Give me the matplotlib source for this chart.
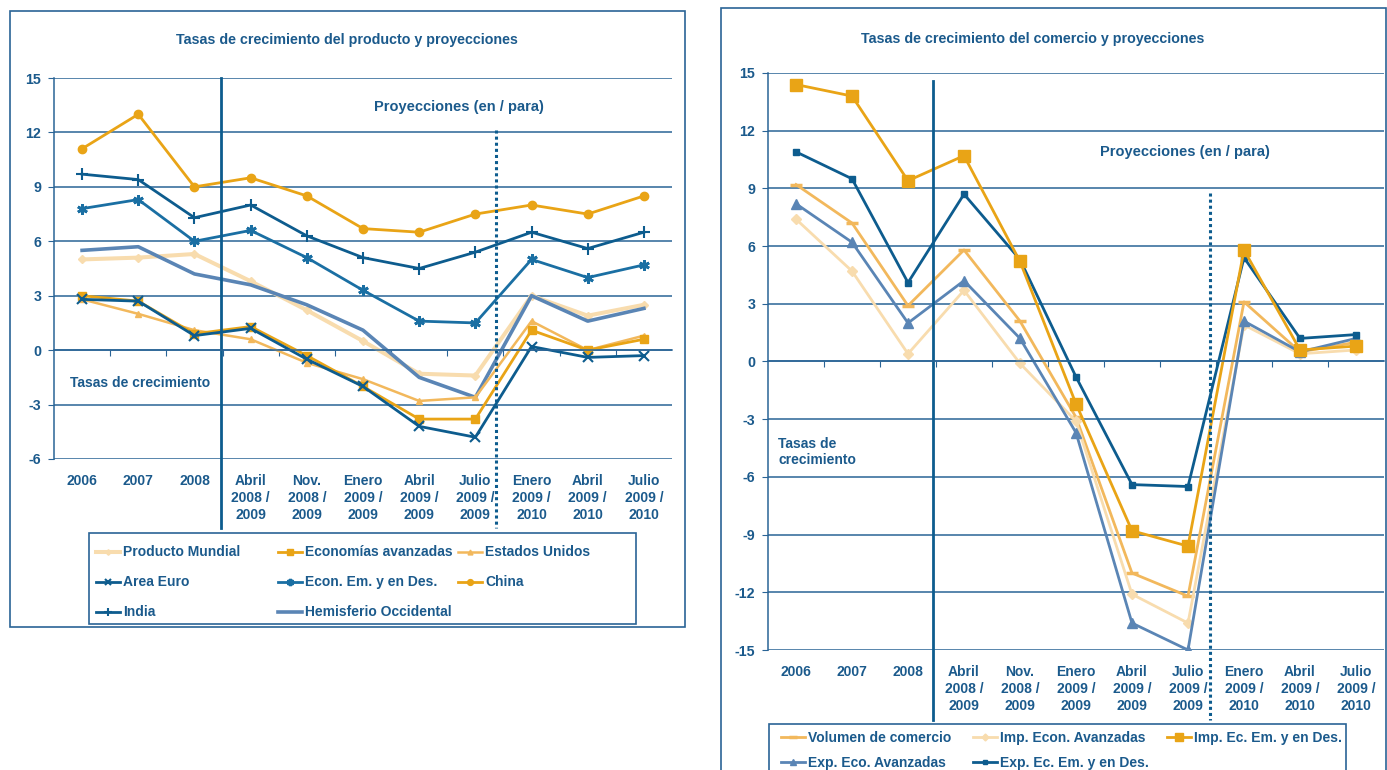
import numpy as np
import matplotlib
matplotlib.use("Agg")
import matplotlib.pyplot as plt
from matplotlib.patches import Rectangle
from matplotlib.transforms import blended_transform_factory

plt.rcParams['font.family'] = ['Liberation Sans', 'DejaVu Sans']
plt.rcParams['font.weight'] = 'bold'
plt.rcParams['axes.unicode_minus'] = False

# categories (x axis)
periods = ["2006", "2007", "2008",
           "Abril\n2008 /\n2009", "Nov.\n2008 /\n2009", "Enero\n2009 /\n2009",
           "Abril\n2009 /\n2009", "Julio\n2009 /\n2009",
           "Enero\n2009 /\n2010", "Abril\n2009 /\n2010", "Julio\n2009 /\n2010"]

# left chart: output growth
producto_mundial = [5.0, 5.1, 5.3, 3.8, 2.2, 0.5, -1.3, -1.4, 3.0, 1.9, 2.5]
economias_avanzadas = [3.0, 2.7, 0.9, 1.3, -0.3, -2.0, -3.8, -3.8, 1.1, 0.0, 0.6]
estados_unidos = [2.8, 2.0, 1.1, 0.6, -0.7, -1.6, -2.8, -2.6, 1.6, 0.0, 0.8]
area_euro = [2.8, 2.7, 0.8, 1.2, -0.5, -2.0, -4.2, -4.8, 0.2, -0.4, -0.3]
econ_em = [7.8, 8.3, 6.0, 6.6, 5.1, 3.3, 1.6, 1.5, 5.0, 4.0, 4.7]
china = [11.1, 13.0, 9.0, 9.5, 8.5, 6.7, 6.5, 7.5, 8.0, 7.5, 8.5]
india = [9.7, 9.4, 7.3, 8.0, 6.3, 5.1, 4.5, 5.4, 6.5, 5.6, 6.5]
hemisferio = [5.5, 5.7, 4.2, 3.6, 2.5, 1.1, -1.5, -2.6, 3.0, 1.6, 2.3]

# right chart: trade growth
volumen = [9.2, 7.2, 2.9, 5.8, 2.1, -2.9, -11.0, -12.2, 3.1, 0.5, 1.0]
imp_avanzadas = [7.4, 4.7, 0.4, 3.7, -0.1, -3.1, -12.1, -13.6, 1.9, 0.4, 0.6]
imp_em = [14.4, 13.8, 9.4, 10.7, 5.2, -2.2, -8.8, -9.6, 5.8, 0.6, 0.8]
exp_avanzadas = [8.2, 6.2, 2.0, 4.2, 1.2, -3.7, -13.6, -15.0, 2.1, 0.5, 1.2]
exp_em = [10.9, 9.5, 4.1, 8.7, 5.3, -0.8, -6.4, -6.5, 5.4, 1.2, 1.4]

NAVY = '#0D5C8E'
BLUE = '#1A6FA3'
ORANGE = '#E9A416'
LORANGE = '#F2B85C'
PEACH = '#F8DCAE'
STEEL = '#5A85B5'
TEXT = '#1B5A8C'
GRID = '#2A6496'

W, H = 1387, 770
fig = plt.figure(figsize=(W / 100, H / 100), dpi=100)


def fx(px):
    return px / W


def fy(py):
    return 1 - py / H


def box(x0, y0, x1, y1):
    fig.patches.append(Rectangle((fx(x0), fy(y1)), fx(x1 - x0), (y1 - y0) / H,
                                 transform=fig.transFigure, fill=False,
                                 edgecolor=GRID, lw=1.2))


def setup_axes(ax, ylo, yhi):
    x = np.arange(len(periods))
    ax.set_xlim(-0.5, len(periods) - 0.5)
    ax.set_ylim(ylo, yhi)
    ax.set_yticks(np.arange(ylo, yhi + 1, 3))
    ax.yaxis.grid(True, color=GRID, lw=1.1)
    ax.set_axisbelow(True)
    for s in ['top', 'right']:
        ax.spines[s].set_visible(False)
    ax.spines['left'].set_color(GRID)
    ax.spines['left'].set_linewidth(1.1)
    ax.spines['bottom'].set_position(('data', 0))
    ax.spines['bottom'].set_color(GRID)
    ax.spines['bottom'].set_linewidth(1.1)
    ax.set_xticks(np.arange(0.5, len(periods) - 0.5, 1))
    ax.tick_params(axis='x', labelbottom=False, length=4, color=GRID, direction='out')
    ax.tick_params(axis='y', length=4, color=GRID, pad=5, labelsize=10.3, labelcolor=TEXT)
    for t in ax.get_yticklabels():
        t.set_fontweight('bold')
    sec = ax.secondary_xaxis('bottom')
    sec.set_xticks(x, periods, fontsize=10, fontweight='bold', color=TEXT, linespacing=1.25)
    sec.tick_params(length=0, pad=11)
    sec.spines['bottom'].set_visible(False)
    return x


# ---------- left chart ----------
ax1 = fig.add_axes([fx(54), fy(459), fx(618), 381 / H])
x = setup_axes(ax1, -6, 15)
l_pm, = ax1.plot(x, producto_mundial, color=PEACH, lw=2.9, marker='D', ms=4, label='Producto Mundial')
l_ho, = ax1.plot(x, hemisferio, color=STEEL, lw=2.6, label='Hemisferio Occidental')
l_eu, = ax1.plot(x, estados_unidos, color=LORANGE, lw=1.8, marker='^', ms=5, label='Estados Unidos')
l_ea, = ax1.plot(x, economias_avanzadas, color=ORANGE, lw=2, marker='s', ms=5.5, label='Economías avanzadas')
l_ae, = ax1.plot(x, area_euro, color=NAVY, lw=2, marker='x', ms=7, mew=1.5, label='Area Euro')
l_em, = ax1.plot(x, econ_em, color=BLUE, lw=2, marker=(6, 2, 0), ms=7.5, mew=2, label='Econ. Em. y en Des.')
l_ch, = ax1.plot(x, china, color=ORANGE, lw=2, marker='o', ms=6, label='China')
l_in, = ax1.plot(x, india, color=NAVY, lw=2, marker='+', ms=9, mew=1.5, label='India')

tr1 = blended_transform_factory(ax1.transData, ax1.transAxes)
ax1.plot([2.48, 2.48], [1.0, -0.181], transform=tr1, color=NAVY, lw=2, clip_on=False)
ax1.plot([7.375, 7.375], [0.864, -0.181], transform=tr1, color=NAVY, lw=2.2,
         ls=(0, (1, 1)), clip_on=False)
ax1.text(6.7, 13.4, 'Proyecciones (en / para)', ha='center', va='center',
         fontsize=10.5, fontweight='bold', color=TEXT)
ax1.text(-0.21, -1.8, 'Tasas de crecimiento', ha='left', va='center',
         fontsize=10, fontweight='bold', color=TEXT)
fig.text(fx(347), fy(40), 'Tasas de crecimiento del producto y proyecciones',
         ha='center', va='center', fontsize=10.3, fontweight='bold', color=TEXT)

# ---------- right chart ----------
ax2 = fig.add_axes([fx(768), fy(650), fx(616), 577 / H])
x = setup_axes(ax2, -15, 15)
r_vol, = ax2.plot(x, volumen, color=LORANGE, lw=2, marker='_', ms=9, mew=2.5, label='Volumen de comercio')
r_ia, = ax2.plot(x, imp_avanzadas, color=PEACH, lw=2, marker='D', ms=5, label='Imp. Econ. Avanzadas')
r_ea, = ax2.plot(x, exp_avanzadas, color=STEEL, lw=2, marker='^', ms=7, label='Exp. Eco. Avanzadas')
r_em, = ax2.plot(x, exp_em, color=NAVY, lw=2, marker='s', ms=5, label='Exp. Ec. Em. y en Des.')
r_im, = ax2.plot(x, imp_em, color=ORANGE, lw=2, marker='s', ms=9, label='Imp. Ec. Em. y en Des.')

tr2 = blended_transform_factory(ax2.transData, ax2.transAxes)
ax2.plot([2.45, 2.45], [0.986, -0.121], transform=tr2, color=NAVY, lw=2, clip_on=False)
ax2.plot([7.39, 7.39], [0.792, -0.121], transform=tr2, color=NAVY, lw=2.2,
         ls=(0, (1, 1)), clip_on=False)
ax2.text(6.95, 10.9, 'Proyecciones (en / para)', ha='center', va='center',
         fontsize=10.5, fontweight='bold', color=TEXT)
ax2.text(-0.32, -4.7, 'Tasas de\ncrecimiento', ha='left', va='center',
         fontsize=10, fontweight='bold', color=TEXT, linespacing=1.2)
fig.text(fx(1033), fy(39), 'Tasas de crecimiento del comercio y proyecciones',
         ha='center', va='center', fontsize=10.3, fontweight='bold', color=TEXT)

# ---------- frames and legends ----------
box(10, 11, 685, 627)
box(721, 8, 1386, 790)
box(89, 533, 636, 624)
box(769, 724, 1346, 790)


def column_legend(handles, xpx, ypx, spacing):
    leg = fig.legend(handles=handles, loc='upper left',
                     bbox_to_anchor=(fx(xpx), fy(ypx)), frameon=False,
                     borderpad=0, borderaxespad=0, handlelength=1.75,
                     handletextpad=0.2, labelspacing=spacing, labelcolor=TEXT,
                     markerscale=0.7, prop={'size': 10, 'weight': 'bold'})
    return leg


column_legend([l_pm, l_ae, l_in], 96, 545.5, 1.15)
column_legend([l_ea, l_em, l_ho], 278, 545.5, 1.15)
column_legend([l_eu, l_ch], 458, 545.5, 1.15)

column_legend([r_vol, r_ea], 781, 731, 0.8)
column_legend([r_ia, r_em], 973, 731, 0.8)
column_legend([r_im], 1167, 731, 0.8)

fig.savefig('out.png', dpi=100)
